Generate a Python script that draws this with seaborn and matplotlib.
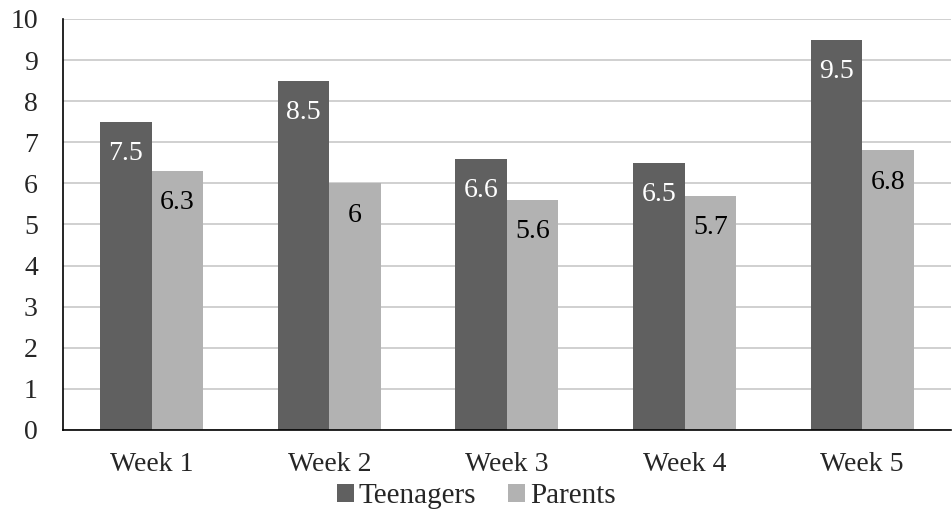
import matplotlib
matplotlib.use("Agg")
import matplotlib.pyplot as plt
import seaborn as sns
import pandas as pd
from matplotlib.patches import Patch

weeks = ["Week 1", "Week 2", "Week 3", "Week 4", "Week 5"]
teenagers = [7.5, 8.5, 6.6, 6.5, 9.5]
parents = [6.3, 6.0, 5.6, 5.7, 6.8]
series = ["Teenagers", "Parents"]
colors = ["#606060", "#b2b2b2"]

df = pd.DataFrame({
    "week": weeks * 2,
    "value": teenagers + parents,
    "group": ["Teenagers"] * 5 + ["Parents"] * 5,
})

sns.set_style("white")
plt.rcParams["font.family"] = ["Liberation Serif", "DejaVu Serif"]

fig = plt.figure(figsize=(9.52, 5.13), dpi=100)
ax = fig.add_axes([0.066, 0.162, 0.933, 0.801])

sns.barplot(data=df, x="week", y="value", hue="group", hue_order=series,
            palette=colors, width=0.58, saturation=1, ax=ax, legend=False,
            edgecolor="none", linewidth=0)

ax.set_ylim(0, 10)
ax.set_yticks(range(0, 11))
ax.yaxis.grid(True, color="#c8c8c8", linewidth=1.2)
ax.set_axisbelow(True)
ax.set_xlabel("")
ax.set_ylabel("")
for s in ["top", "right"]:
    ax.spines[s].set_visible(False)
ax.spines["left"].set_color("black")
ax.spines["bottom"].set_color("black")
ax.spines["left"].set_linewidth(1.2)
ax.spines["bottom"].set_linewidth(1.2)
ax.tick_params(axis="both", labelsize=20, length=0)
ax.tick_params(axis="x", pad=16)
ax.tick_params(axis="y", pad=18)

txtcolors = ["white", "black"]
for cont, tc in zip(ax.containers, txtcolors):
    for bar in cont:
        h = bar.get_height()
        lab = f"{h:g}"
        ax.annotate(lab, (bar.get_x() + bar.get_width() / 2, h),
                    xytext=(0, -14), textcoords="offset points",
                    ha="center", va="top", fontsize=20, color=tc)

handles = [Patch(facecolor=c, edgecolor="none") for c in colors]
fig.legend(handles, series, loc="center", bbox_to_anchor=(0.5, 0.033),
           ncol=2, frameon=False, fontsize=21, handlelength=0.6,
           handleheight=0.6, handletextpad=0.15, columnspacing=1.1,
           borderpad=0.1)

fig.savefig("out.png", dpi=100)
